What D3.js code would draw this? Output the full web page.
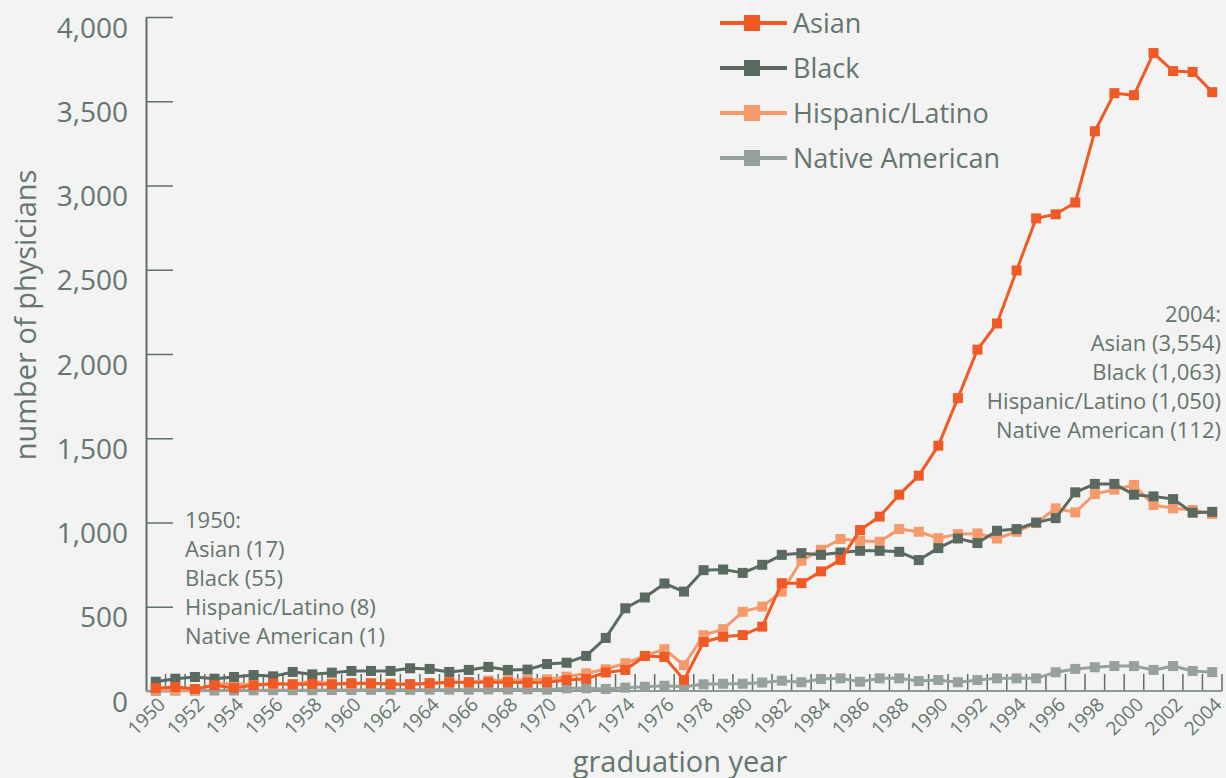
<!DOCTYPE html>
<meta charset="utf-8">

<!-- Load d3.js -->
<script src="https://d3js.org/d3.v7.min.js"></script>

<style>
  body { margin: 0; background: #f2f3f2; }
  text { font-family: "Open Sans", "Noto Sans", sans-serif; fill: #66756d; }
</style>

<!-- Create a div where the graph will take place -->
<div id="my_dataviz"></div>

<script>

    // categories
    const years = [1950, 1951, 1952, 1953, 1954, 1955, 1956, 1957, 1958, 1959,
      1960, 1961, 1962, 1963, 1964, 1965, 1966, 1967, 1968, 1969,
      1970, 1971, 1972, 1973, 1974, 1975, 1976, 1977, 1978, 1979,
      1980, 1981, 1982, 1983, 1984, 1985, 1986, 1987, 1988, 1989,
      1990, 1991, 1992, 1993, 1994, 1995, 1996, 1997, 1998, 1999,
      2000, 2001, 2002, 2003, 2004];

    // series values (number of physicians per graduation year)
    const asian = [17, 24, 12, 34, 18, 34, 44, 40, 42, 40,
      46, 46, 40, 40, 46, 52, 52, 52, 52, 50,
      52, 65, 72, 110, 125, 208, 202, 65, 291, 322,
      332, 382, 640, 640, 710, 778, 955, 1035, 1165, 1278,
      1456, 1738, 2026, 2181, 2496, 2805, 2829, 2899, 3322, 3548,
      3536, 3786, 3679, 3674, 3554];
    const black = [55, 73, 83, 73, 83, 95, 87, 113, 99, 109,
      119, 119, 119, 135, 131, 113, 125, 143, 125, 127,
      160, 168, 208, 315, 491, 555, 638, 590, 717, 721,
      701, 749, 808, 818, 808, 822, 832, 832, 826, 777,
      848, 905, 878, 951, 961, 1000, 1026, 1179, 1229, 1229,
      1165, 1155, 1139, 1058, 1063];
    const hispanic = [8, 6, 5, 40, 45, 35, 40, 40, 58, 45,
      42, 45, 45, 40, 45, 50, 52, 62, 65, 65,
      69, 85, 105, 129, 165, 208, 248, 153, 331, 367,
      470, 501, 590, 773, 838, 902, 892, 886, 961, 945,
      907, 931, 935, 905, 945, 997, 1084, 1060, 1169, 1195,
      1223, 1104, 1084, 1074, 1050];
    const nativeAm = [1, 2, 2, 3, 3, 4, 5, 5, 5, 6,
      6, 7, 7, 7, 8, 8, 8, 9, 9, 10,
      8, 16, 16, 12, 20, 25, 31, 25, 40, 43,
      43, 50, 61, 52, 71, 75, 55, 75, 75, 59,
      65, 52, 65, 75, 75, 75, 111, 131, 141, 148,
      148, 125, 148, 119, 112];

    // tick labels
    const yTicks = [0, 500, 1000, 1500, 2000, 2500, 3000, 3500, 4000];
    const xLabelYears = [1950, 1952, 1954, 1956, 1958, 1960, 1962, 1964, 1966, 1968,
      1970, 1972, 1974, 1976, 1978, 1980, 1982, 1984, 1986, 1988,
      1990, 1992, 1994, 1996, 1998, 2000, 2002, 2004];

    // annotation texts
    const note1950 = ["1950:", "Asian (17)", "Black (55)", "Hispanic/Latino (8)", "Native American (1)"];
    const note2004 = ["2004:", "Asian (3,554)", "Black (1,063)", "Hispanic/Latino (1,050)", "Native American (112)"];

    // series list, in legend order
    const series = [
      {name: "Asian", values: asian, color: "#f15a24"},
      {name: "Black", values: black, color: "#5b6a61"},
      {name: "Hispanic/Latino", values: hispanic, color: "#f69a6b"},
      {name: "Native American", values: nativeAm, color: "#97a19b"}
    ];

    // set the dimensions and margins of the graph
    const margin = {top: 17, right: 4, bottom: 87, left: 146},
        width = 1226 - margin.left - margin.right,
        height = 778 - margin.top - margin.bottom;

    const root = d3.select("#my_dataviz")
      .append("svg")
        .attr("width", 1226)
        .attr("height", 778)
        .style("display", "block")
        .style("background", "#f2f3f2");

    const svg = root.append("g")
        .attr("transform", `translate(${margin.left},${margin.top})`);

    // X scale
    const x = d3.scaleBand()
      .domain(years)
      .range([0, width]);

    // Y scale
    const y = d3.scaleLinear()
      .domain([0, 4000])
      .range([height, 0]);

    // Y axis, ticks pointing into the plot
    const yAxis = svg.append("g")
      .call(d3.axisLeft(y)
        .tickValues(yTicks)
        .tickSize(-27)
        .tickSizeOuter(0)
        .tickPadding(18)
        .tickFormat(d3.format(",")));
    yAxis.select(".domain").attr("stroke", "#5f6e66").attr("stroke-width", 2);
    yAxis.selectAll(".tick line").attr("stroke", "#5f6e66").attr("stroke-width", 1.5);
    yAxis.selectAll(".tick text")
      .attr("dy", "0.72em")
      .style("font-size", "28px")
      .style("font-family", "'Open Sans', sans-serif")
      .attr("fill", "#66756d");

    // X axis: baseline, small ticks at band edges, rotated labels
    const xg = svg.append("g");
    xg.selectAll("tickline")
      .data(years.slice(1))
      .join("line")
        .attr("x1", d => x(d))
        .attr("x2", d => x(d))
        .attr("y1", height - 17)
        .attr("y2", height)
        .attr("stroke", "#5f6e66")
        .attr("stroke-width", 1.5);
    xg.append("line")
      .attr("x1", 0)
      .attr("x2", width)
      .attr("y1", height)
      .attr("y2", height)
      .attr("stroke", "#8e9993")
      .attr("stroke-width", 2);
    xg.append("line")
      .attr("x1", width)
      .attr("x2", width)
      .attr("y1", height - 17)
      .attr("y2", height)
      .attr("stroke", "#5f6e66")
      .attr("stroke-width", 1.5);

    xg.selectAll("xlabel")
      .data(xLabelYears)
      .join("text")
        .attr("transform", d => `translate(${x(d) + x.bandwidth() / 2 + 6},${height + 10})rotate(-45)`)
        .attr("dy", "0.35em")
        .style("text-anchor", "end")
        .style("font-size", "19px")
        .attr("fill", "#7a8781")
        .text(d => d);

    // axis titles
    root.append("text")
      .attr("x", 680)
      .attr("y", 772)
      .style("text-anchor", "middle")
      .style("font-size", "29px")
      .text("graduation year");

    root.append("text")
      .attr("transform", "translate(36,315)rotate(-90)")
      .style("text-anchor", "middle")
      .style("font-size", "29px")
      .text("number of physicians");

    // Lines and markers, drawn bottom to top
    const line = d3.line()
      .x((d, i) => x(years[i]) + x.bandwidth() / 2)
      .y(d => y(d));

    const drawOrder = [series[3], series[2], series[1], series[0]];
    const ms = 10;

    drawOrder.forEach(function(s) {
      svg.append("path")
        .datum(s.values)
        .attr("fill", "none")
        .attr("stroke", s.color)
        .attr("stroke-width", 3)
        .attr("stroke-linejoin", "round")
        .attr("d", line);

      svg.append("g")
        .selectAll("rect")
        .data(s.values)
        .join("rect")
          .attr("x", (d, i) => x(years[i]) + x.bandwidth() / 2 - ms / 2)
          .attr("y", d => y(d) - ms / 2)
          .attr("width", ms)
          .attr("height", ms)
          .attr("fill", s.color);
    });

    // Legend
    const legend = root.append("g")
      .attr("transform", "translate(720,23)");
    series.forEach(function(s, i) {
      const row = legend.append("g").attr("transform", `translate(0,${i * 45})`);
      row.append("line")
        .attr("x1", 0).attr("x2", 67)
        .attr("stroke", s.color)
        .attr("stroke-width", 4);
      row.append("rect")
        .attr("x", 24).attr("y", -8)
        .attr("width", 16).attr("height", 16)
        .attr("fill", s.color);
      row.append("text")
        .attr("x", 73)
        .attr("dy", "0.36em")
        .style("font-size", "27px")
        .text(s.name);
    });

    // Annotations
    root.append("g")
      .selectAll("text")
      .data(note1950)
      .join("text")
        .attr("x", 185)
        .attr("y", (d, i) => 528 + i * 29)
        .style("font-size", "22px")
        .text(d => d);

    root.append("g")
      .selectAll("text")
      .data(note2004)
      .join("text")
        .attr("x", 1221)
        .attr("y", (d, i) => 322 + i * 29)
        .style("text-anchor", "end")
        .style("font-size", "22px")
        .text(d => d);

</script>
